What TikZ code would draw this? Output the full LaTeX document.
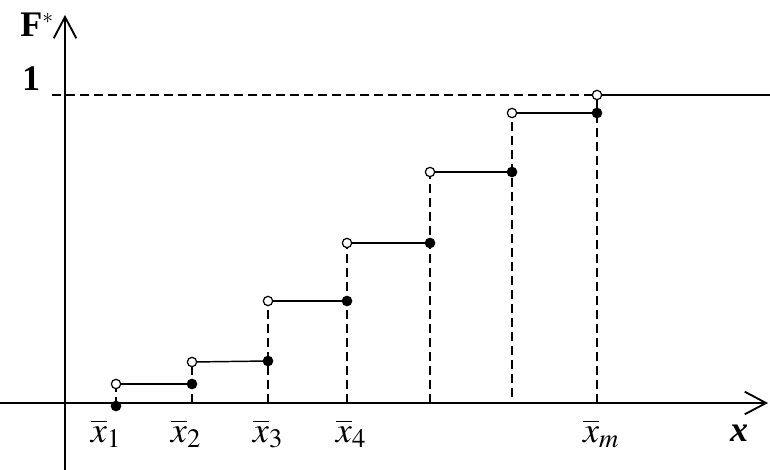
\documentclass[tikz,border=0pt]{standalone}
\usepackage{mathptmx}
\usepackage{fontspec}
\setmainfont{Liberation Serif}
\usetikzlibrary{arrows.meta}
\begin{document}
\begin{tikzpicture}[
    x=0.75pt, y=-0.75pt,
    every node/.style={font=\fontsize{27}{31}\selectfont, inner sep=1pt},
    axis/.style={line width=1.4pt, -{Straight Barb[length=16pt,width=17pt]}},
    stepline/.style={line width=1.1pt},
    guide/.style={line width=1.2pt, dash pattern=on 6.5pt off 4pt},
    opendot/.style={circle, draw, fill=white, line width=0.9pt,
                    inner sep=0pt, minimum size=7pt},
    fulldot/.style={circle, fill, inner sep=0pt, minimum size=8pt},
    ticklabel/.style={anchor=base},
  ]
    \useasboundingbox (0,0) rectangle (770,470);

    % axes
    \coordinate (xstart) at (0,403);
    \coordinate (xend) at (768,403);
    \coordinate (ystart) at (65,470);
    \coordinate (yend) at (65,15);
    \draw[axis] (xstart) -- (xend);
    \draw[axis] (ystart) -- (yend);
    \node[ticklabel] (Fname) at (37,37) {\textbf{F}$^{\scriptscriptstyle *}$};
    \node[ticklabel] (one) at (31,91) {\textbf{1}};
    \node[ticklabel] (xname) at (739,441) {\textbf{\textit{x}}};

    % jump points and step ends
    \foreach \n/\px/\py in {1/116/384, 2/192/362, 3/268/301, 4/347/243,
                            5/430/172, 6/512/113, 7/597/95}
      \coordinate (o\n) at (\px,\py);
    \foreach \n/\px/\py in {1/116/406, 2/192/384, 3/268/361, 4/347/301,
                            5/430/243, 6/512/172, 7/597/113}
      \coordinate (f\n) at (\px,\py);
    \foreach \n/\px in {2/192, 3/268, 4/347, 5/430, 7/597}
      \coordinate (a\n) at (\px,403);
    \coordinate (a6) at (512,397);
    \coordinate (a1) at (116,406);
    \coordinate (onelevel) at (52,95);
    \coordinate (tailend) at (770,95);

    % dashed guides
    \foreach \n in {1,...,7}
      \draw[guide] (a\n) -- (o\n);
    \draw[guide] (onelevel) -- (o7);

    % steps
    \foreach \n [count=\m from 2] in {1,...,6}
      \draw[stepline] (o\n) -- (f\m);
    \draw[stepline] (o7) -- (tailend);

    % dots
    \foreach \n in {1,...,7} {
      \node[fulldot] (F\n) at (f\n) {};
      \node[opendot] (O\n) at (o\n) {};
    }

    % labels under the axis
    \node[ticklabel] (l1) at (106,442) {$\overline{x}_1$};
    \node[ticklabel] (l2) at (186,442) {$\overline{x}_2$};
    \node[ticklabel] (l3) at (268,442) {$\overline{x}_3$};
    \node[ticklabel] (l4) at (351,442) {$\overline{x}_4$};
    \node[ticklabel] (lm) at (601,442) {$\overline{x}_m$};
\end{tikzpicture}
\end{document}
